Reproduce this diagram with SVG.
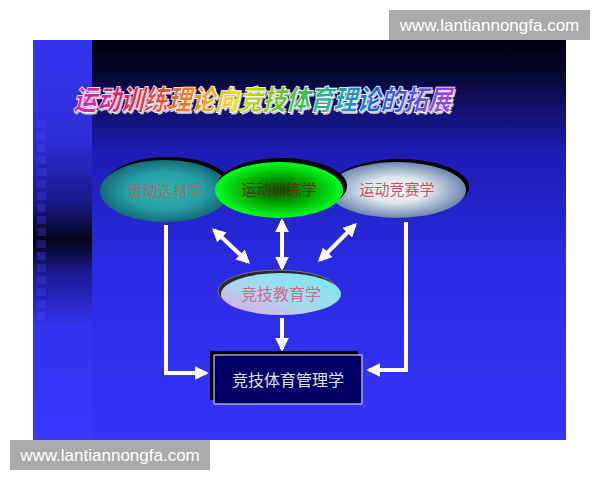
<svg xmlns="http://www.w3.org/2000/svg" width="600" height="480" viewBox="0 0 600 480">
<defs>
<style>
.lbl{font-family:"Noto Sans CJK SC","Liberation Serif",serif;font-size:15px;text-anchor:middle}
.wm{font-family:"Liberation Sans","DejaVu Sans",sans-serif;font-size:17px;fill:#ffffff}
.conn{stroke:#ffffff;stroke-width:4;fill:none}
</style>
<linearGradient id="bg" x1="0" y1="0" x2="0" y2="1">
<stop offset="0" stop-color="#00000c"/>
<stop offset="0.07" stop-color="#06062a"/>
<stop offset="0.28" stop-color="#1d1db4"/>
<stop offset="0.55" stop-color="#2a2ae2"/>
<stop offset="1" stop-color="#3535fb"/>
</linearGradient>
<linearGradient id="strip" x1="0" y1="0" x2="0" y2="1">
<stop offset="0" stop-color="#3434f0"/>
<stop offset="0.25" stop-color="#2e2ed8"/>
<stop offset="0.4" stop-color="#1a1a90"/>
<stop offset="0.5" stop-color="#050518"/>
<stop offset="0.58" stop-color="#1a1a90"/>
<stop offset="0.72" stop-color="#3333f0"/>
<stop offset="1" stop-color="#3838ff"/>
</linearGradient>
<linearGradient id="rainbow" x1="0" y1="0" x2="1" y2="0">
<stop offset="0" stop-color="#e020c0"/>
<stop offset="0.15" stop-color="#e02050"/>
<stop offset="0.3" stop-color="#f08020"/>
<stop offset="0.42" stop-color="#f0e000"/>
<stop offset="0.55" stop-color="#60c030"/>
<stop offset="0.68" stop-color="#20b0a0"/>
<stop offset="0.8" stop-color="#2060e0"/>
<stop offset="1" stop-color="#a040e0"/>
</linearGradient>
<radialGradient id="gTeal" cx="0.5" cy="0.5" r="0.5">
<stop offset="0" stop-color="#30b4b4"/>
<stop offset="0.6" stop-color="#25a0a4"/>
<stop offset="1" stop-color="#176a78"/>
</radialGradient>
<radialGradient id="gGreen" cx="0.5" cy="0.5" r="0.5">
<stop offset="0" stop-color="#005000"/>
<stop offset="0.55" stop-color="#00b000"/>
<stop offset="1" stop-color="#00ff20"/>
</radialGradient>
<radialGradient id="gGray" cx="0.5" cy="0.5" r="0.5">
<stop offset="0" stop-color="#ffffff"/>
<stop offset="0.45" stop-color="#dfe6ee"/>
<stop offset="1" stop-color="#6d88ae"/>
</radialGradient>
<linearGradient id="gEdu" x1="0" y1="1" x2="1" y2="0">
<stop offset="0" stop-color="#e9a0e6"/>
<stop offset="0.45" stop-color="#a8d8f0"/>
<stop offset="1" stop-color="#70eaf0"/>
</linearGradient>
<marker id="ah" viewBox="0 0 10 10" refX="8" refY="5" markerWidth="3.4" markerHeight="3.4" orient="auto-start-reverse" markerUnits="strokeWidth">
<path d="M0,0 L10,5 L0,10 z" fill="#ffffff"/>
</marker>
</defs>
<rect width="600" height="480" fill="#ffffff"/>
<rect x="33" y="40" width="533" height="400" fill="url(#bg)"/>
<rect x="33" y="40" width="59" height="400" fill="url(#strip)"/>
<g fill="#4848ff" opacity="0.3">
<rect x="37" y="120" width="9" height="8"/><rect x="37" y="132" width="9" height="8"/><rect x="37" y="144" width="9" height="8"/><rect x="37" y="156" width="9" height="8"/><rect x="37" y="168" width="9" height="8"/><rect x="37" y="180" width="9" height="8"/><rect x="37" y="192" width="9" height="8"/><rect x="37" y="204" width="9" height="8"/><rect x="37" y="216" width="9" height="8"/><rect x="37" y="228" width="9" height="8"/><rect x="37" y="240" width="9" height="8"/><rect x="37" y="252" width="9" height="8"/><rect x="37" y="264" width="9" height="8"/><rect x="37" y="276" width="9" height="8"/><rect x="37" y="288" width="9" height="8"/><rect x="37" y="300" width="9" height="8"/><rect x="37" y="312" width="9" height="8"/>
</g>
<g id="title" font-family="'Noto Sans CJK SC',sans-serif" font-weight="900" font-size="28">
<g transform="translate(262,110) skewX(-14)">
<text x="2" y="2" text-anchor="middle" textLength="378" lengthAdjust="spacingAndGlyphs" fill="#c8c8d8">运动训练理论向竞技体育理论的拓展</text>
<text x="0" y="0" text-anchor="middle" textLength="378" lengthAdjust="spacingAndGlyphs" fill="url(#rainbow)" stroke="#ffffff" stroke-width="0.8">运动训练理论向竞技体育理论的拓展</text>
</g>
</g>
<g id="connectors">
<polyline class="conn" points="166,225 166,373 206,373" marker-end="url(#ah)"/>
<polyline class="conn" points="406,222 406,370 369,370" marker-end="url(#ah)"/>
<line class="conn" x1="282" y1="221" x2="282" y2="268" marker-start="url(#ah)" marker-end="url(#ah)"/>
<line class="conn" x1="214" y1="230" x2="248" y2="262" marker-start="url(#ah)" marker-end="url(#ah)"/>
<line class="conn" x1="355" y1="225" x2="320" y2="260" marker-start="url(#ah)" marker-end="url(#ah)"/>
<line class="conn" x1="282" y1="318" x2="282" y2="349" marker-end="url(#ah)"/>
</g>
<g id="n1">
<ellipse cx="168" cy="188" rx="65" ry="31" fill="#000000"/>
<ellipse cx="165" cy="191" rx="65" ry="31" fill="url(#gTeal)"/>
<text class="lbl" x="165" y="196" fill="#8a7468">运动选材学</text>
</g>
<g id="n3">
<ellipse cx="400" cy="187" rx="69" ry="28" fill="#000000"/>
<ellipse cx="397" cy="190" rx="69" ry="28" fill="url(#gGray)"/>
<text class="lbl" x="397" y="195" fill="#d05252">运动竞赛学</text>
</g>
<g id="n2">
<ellipse cx="282" cy="186" rx="65" ry="28" fill="#000000"/>
<ellipse cx="279" cy="190" rx="64" ry="28" fill="url(#gGreen)"/>
<text class="lbl" x="279" y="195" fill="#5a3418">运动训练学</text>
</g>
<g id="n4">
<ellipse cx="278" cy="291" rx="60" ry="21" fill="#2a2a2a" stroke="#777" stroke-width="1"/>
<ellipse cx="281" cy="294" rx="60" ry="21" fill="url(#gEdu)"/>
<text class="lbl" x="281" y="300" fill="#d06a8a" style="font-size:16px">竞技教育学</text>
</g>
<g id="n5">
<rect x="210" y="351" width="148" height="49" fill="#000000"/>
<rect x="214" y="355" width="148" height="49" fill="#000066" stroke="#c8c8dc" stroke-width="1.2"/>
<text class="lbl" x="288" y="386" fill="#e0e0e8" style="font-size:16px">竞技体育管理学</text>
</g>
<rect x="389" y="10" width="201" height="30" fill="#aaaaaa"/>
<text class="wm" x="489.5" y="31" text-anchor="middle">www.lantiannongfa.com</text>
<rect x="10" y="440" width="200" height="30" fill="#aaaaaa"/>
<text class="wm" x="110" y="461" text-anchor="middle">www.lantiannongfa.com</text>
</svg>
